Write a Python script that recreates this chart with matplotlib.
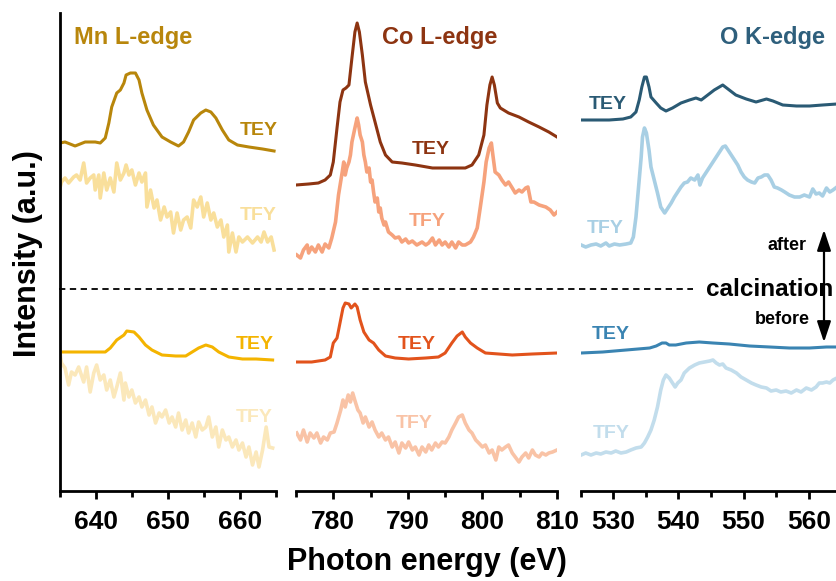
import matplotlib
matplotlib.use("Agg")
import matplotlib.pyplot as plt
from matplotlib.lines import Line2D
from matplotlib.patches import FancyArrowPatch
from matplotlib.ticker import MultipleLocator

plt.rcParams["font.family"] = ["Liberation Sans", "DejaVu Sans"]
plt.rcParams["font.weight"] = "bold"

# ---- Mn L-edge (photon energy eV, intensity a.u. incl. stacking offset) ----
mn_tey_after_e = [635.0, 635.7, 637.1, 638.5, 639.9, 640.6, 641.3, 641.8, 642.2, 642.9, 643.4,
                  643.9, 644.2, 644.8, 645.5, 646.0, 646.4, 647.1, 648.0, 649.2, 650.4, 651.5,
                  652.2, 652.9, 653.6, 654.6, 655.3, 656.0, 656.7, 657.6, 658.5, 659.7, 661.3,
                  663.2, 664.8]
mn_tey_after_i = [348, 349, 345, 349, 349, 348, 353, 368, 384, 398, 401, 408, 416, 418, 418, 411,
                  398, 381, 366, 354, 349, 345, 349, 359, 371, 378, 381, 379, 373, 361, 351, 346,
                  344, 342, 340]
mn_tfy_after_e = [635.0, 635.2, 635.7, 636.2, 636.9, 637.3, 637.8, 638.3, 638.7, 639.2, 639.7,
                  639.9, 640.4, 640.6, 641.1, 641.5, 642.0, 642.5, 642.9, 643.4, 643.9, 644.2,
                  644.6, 645.0, 645.5, 646.0, 646.4, 646.9, 647.1, 647.6, 648.1, 648.5, 649.0,
                  649.5, 649.9, 650.4, 650.8, 651.3, 651.8, 652.2, 652.7, 653.2, 653.6, 654.1,
                  654.6, 655.0, 655.5, 656.0, 656.4, 656.9, 657.4, 657.8, 658.3, 658.5, 659.0,
                  659.5, 659.9, 660.4, 661.1, 661.8, 662.5, 663.0, 663.4, 663.9, 664.4, 664.8]
mn_tfy_after_i = [303, 309, 313, 308, 314, 316, 311, 328, 308, 313, 316, 301, 316, 293, 318, 301,
                  313, 299, 328, 311, 318, 326, 316, 321, 306, 318, 309, 318, 284, 301, 283, 291,
                  271, 284, 274, 279, 258, 278, 261, 271, 274, 263, 291, 284, 294, 274, 288, 271,
                  278, 264, 271, 254, 266, 239, 258, 239, 254, 249, 254, 248, 254, 249, 259, 249,
                  254, 241]
mn_tey_before_e = [635.0, 637.1, 639.9, 641.3, 642.0, 642.9, 643.9, 644.3, 645.3, 646.0, 646.9,
                   647.8, 649.2, 651.1, 652.5, 653.4, 654.3, 655.3, 656.2, 657.1, 658.5, 660.4,
                   662.3, 664.6]
mn_tey_before_i = [139, 139, 139, 139, 143, 151, 156, 160, 159, 154, 146, 141, 136, 135, 135, 139,
                   143, 146, 144, 139, 134, 132, 132, 131]
mn_tfy_before_e = [635.0, 635.2, 635.7, 636.2, 636.6, 637.1, 637.6, 638.3, 638.7, 639.2, 639.7,
                   640.1, 640.6, 641.1, 641.5, 642.0, 642.5, 642.9, 643.4, 643.9, 644.1, 644.6,
                   645.0, 645.5, 646.0, 646.4, 646.9, 647.4, 647.8, 648.3, 648.8, 649.2, 649.7,
                   650.2, 650.6, 651.1, 651.5, 652.0, 652.5, 652.9, 653.4, 653.9, 654.3, 654.8,
                   655.3, 655.7, 656.2, 656.7, 657.1, 657.6, 658.1, 658.5, 659.0, 659.5, 659.9,
                   660.4, 660.9, 661.3, 661.8, 662.3, 662.7, 663.2, 663.7, 664.1, 664.6]
mn_tfy_before_i = [139, 128, 123, 106, 119, 116, 124, 109, 124, 99, 118, 126, 111, 116, 101, 111,
                   94, 104, 118, 91, 108, 94, 101, 88, 94, 84, 91, 76, 84, 68, 78, 74, 81, 68, 74,
                   64, 78, 61, 71, 58, 68, 54, 69, 61, 64, 74, 54, 64, 44, 61, 51, 54, 44, 51, 41,
                   48, 34, 44, 26, 39, 24, 41, 64, 44, 43]

# ---- Co L-edge ----
co_tey_after_e = [775.0, 776.7, 778.0, 778.9, 779.6, 780.0, 780.5, 780.9, 781.3, 781.7, 782.1,
                  782.5, 782.9, 783.2, 783.5, 783.9, 784.3, 785.0, 785.6, 786.3, 787.0, 787.9,
                  789.2, 791.0, 793.3, 795.5, 797.7, 798.6, 799.5, 800.2, 800.6, 801.0, 801.3,
                  801.6, 802.0, 802.4, 803.5, 804.9, 806.2, 807.6, 808.9, 810.0]
co_tey_after_i = [306, 307, 308, 311, 316, 329, 363, 389, 401, 403, 406, 433, 459, 468, 459, 436,
                  409, 386, 369, 349, 336, 329, 328, 326, 323, 323, 323, 326, 336, 356, 386, 406,
                  414, 406, 388, 383, 378, 374, 369, 364, 359, 354]
co_tfy_after_e = [775.1, 775.6, 776.0, 776.5, 776.7, 777.1, 777.6, 778.0, 778.5, 778.9, 779.4,
                  779.8, 780.3, 780.7, 781.2, 781.4, 781.6, 781.8, 782.1, 782.3, 782.5, 782.9,
                  783.2, 783.4, 783.6, 783.9, 784.1, 784.3, 784.5, 784.8, 785.0, 785.2, 785.4,
                  785.6, 785.9, 786.1, 786.3, 786.5, 786.8, 787.0, 787.4, 787.9, 788.3, 788.8,
                  789.2, 789.7, 790.1, 790.6, 791.2, 791.9, 792.4, 792.8, 793.3, 793.7, 794.2,
                  794.6, 795.0, 795.5, 795.9, 796.4, 796.8, 797.3, 797.7, 798.4, 798.8, 799.3,
                  799.7, 800.2, 800.5, 800.9, 801.2, 801.4, 801.7, 802.2, 802.6, 803.1, 803.5,
                  804.0, 804.4, 804.9, 805.3, 805.8, 806.1, 806.5, 806.9, 807.6, 808.5, 809.1,
                  809.6, 810.0]
co_tfy_after_i = [236, 233, 241, 246, 238, 244, 239, 246, 239, 247, 243, 253, 269, 296, 319, 329,
                  316, 323, 329, 336, 349, 363, 373, 366, 356, 349, 336, 329, 319, 323, 309, 311,
                  299, 289, 293, 279, 283, 273, 266, 269, 259, 256, 253, 254, 249, 252, 248, 250,
                  246, 249, 246, 248, 253, 246, 251, 246, 249, 244, 249, 243, 249, 246, 246, 249,
                  254, 263, 283, 309, 329, 343, 348, 336, 319, 316, 311, 306, 309, 303, 298, 301,
                  299, 303, 304, 289, 289, 286, 284, 281, 276, 279]
co_tey_before_e = [775.1, 777.1, 778.9, 779.6, 780.0, 780.5, 780.9, 781.3, 781.6, 782.1, 782.4,
                   782.9, 783.2, 783.6, 784.1, 784.8, 785.4, 786.1, 787.0, 788.3, 790.1, 792.4,
                   794.1, 795.0, 795.9, 796.6, 797.3, 797.7, 798.4, 799.3, 800.4, 802.2, 804.0,
                   806.7, 810.0]
co_tey_before_i = [129, 129, 131, 134, 148, 153, 168, 183, 188, 187, 183, 187, 184, 171, 159, 151,
                   148, 141, 135, 133, 132, 133, 134, 138, 148, 155, 159, 154, 148, 143, 138, 137,
                   136, 137, 138]
co_tfy_before_e = [775.1, 775.6, 776.0, 776.5, 776.9, 777.4, 777.8, 778.3, 778.7, 779.2, 779.6,
                   780.1, 780.5, 781.0, 781.3, 781.6, 782.0, 782.3, 782.6, 783.0, 783.3, 783.6,
                   784.0, 784.3, 784.8, 785.2, 785.6, 786.1, 786.5, 787.0, 787.4, 787.9, 788.3,
                   788.8, 789.2, 789.7, 790.1, 790.6, 791.0, 791.5, 791.9, 792.4, 792.8, 793.2,
                   793.7, 794.1, 794.6, 795.0, 795.5, 795.9, 796.4, 796.8, 797.3, 797.7, 798.2,
                   798.6, 799.1, 799.5, 800.0, 800.4, 800.9, 801.3, 801.8, 802.2, 802.6, 803.1,
                   803.5, 804.0, 804.4, 804.9, 805.3, 805.8, 806.2, 806.7, 807.1, 807.6, 808.0,
                   808.5, 808.9, 809.4, 810.0]
co_tfy_before_i = [58, 51, 61, 49, 58, 53, 58, 48, 54, 51, 58, 59, 68, 81, 91, 84, 96, 89, 98, 88,
                   81, 78, 68, 74, 64, 69, 61, 54, 58, 51, 54, 44, 49, 38, 48, 43, 49, 41, 44, 36,
                   44, 39, 46, 41, 48, 44, 49, 48, 54, 61, 68, 74, 76, 68, 61, 58, 51, 48, 44, 46,
                   38, 41, 31, 44, 41, 44, 46, 38, 34, 29, 34, 38, 33, 41, 36, 34, 38, 36, 38, 39,
                   41]

# ---- O K-edge ----
o_tey_after_e = [525.1, 527.4, 529.4, 531.5, 532.7, 533.5, 534.0, 534.4, 534.8, 535.1, 535.5,
                 535.8, 536.6, 537.3, 538.1, 539.1, 540.4, 541.7, 542.7, 543.5, 544.5, 545.5,
                 546.8, 547.8, 548.8, 550.4, 551.9, 553.5, 554.5, 556.0, 558.1, 560.1, 562.1,
                 564.3, 565.0]
o_tey_after_i = [371, 371, 371, 372, 374, 379, 391, 404, 414, 414, 404, 394, 388, 383, 380, 383,
                 388, 391, 393, 391, 396, 401, 406, 401, 396, 392, 389, 392, 390, 386, 385, 385,
                 386, 387, 387]
o_tfy_after_e = [525.1, 525.8, 526.6, 527.4, 528.1, 528.9, 529.4, 530.2, 531.0, 532.0, 532.7,
                 533.1, 533.5, 533.9, 534.3, 534.5, 534.8, 535.1, 535.5, 535.8, 536.3, 536.8,
                 537.3, 537.9, 538.4, 538.9, 539.4, 539.9, 540.4, 540.9, 541.4, 541.9, 542.5,
                 543.0, 543.3, 543.7, 544.3, 544.8, 545.3, 545.8, 546.3, 546.8, 547.2, 547.6,
                 548.1, 548.6, 549.1, 549.6, 550.1, 550.6, 551.2, 551.7, 552.2, 552.7, 553.2,
                 553.7, 554.2, 554.7, 555.2, 555.8, 556.3, 557.0, 557.8, 558.6, 559.3, 560.1,
                 560.6, 561.1, 561.6, 562.1, 562.7, 563.2, 563.7, 564.3, 565.0]
o_tfy_after_i = [246, 244, 246, 247, 245, 248, 245, 247, 246, 247, 248, 254, 274, 304, 334, 354,
                 363, 358, 341, 324, 311, 298, 284, 278, 283, 288, 294, 299, 304, 308, 309, 313,
                 311, 316, 306, 313, 319, 324, 329, 334, 339, 344, 345, 341, 336, 331, 326, 319,
                 314, 311, 309, 308, 313, 314, 316, 316, 311, 304, 303, 301, 299, 296, 294, 294,
                 296, 294, 302, 297, 298, 295, 303, 299, 301, 304, 306]
o_tey_before_e = [525.1, 528.4, 532.0, 535.6, 536.6, 537.5, 538.1, 538.6, 539.6, 541.2, 543.2,
                  545.3, 547.8, 550.9, 554.0, 557.0, 560.1, 562.7, 564.3, 565.0]
o_tey_before_i = [138, 139, 141, 143, 145, 148, 148, 146, 146, 148, 149, 148, 147, 145, 144, 143,
                  143, 144, 144, 144]
o_tfy_before_e = [525.1, 525.8, 526.6, 527.4, 528.1, 528.9, 529.7, 530.4, 531.2, 532.0, 532.7,
                  533.5, 534.3, 534.8, 535.3, 535.8, 536.3, 536.8, 537.3, 537.7, 538.1, 538.6,
                  539.1, 539.5, 539.9, 540.4, 540.9, 541.7, 542.5, 543.2, 544.0, 544.8, 545.3,
                  545.8, 546.3, 546.8, 547.3, 548.1, 548.9, 549.6, 550.4, 551.2, 551.9, 552.7,
                  553.5, 554.2, 555.0, 555.7, 556.5, 557.3, 558.1, 558.8, 559.6, 560.4, 561.1,
                  561.6, 562.1, 562.7, 563.2, 563.7, 564.3, 565.0]
o_tfy_before_i = [36, 38, 36, 38, 37, 39, 38, 40, 38, 39, 41, 43, 44, 48, 54, 61, 71, 84, 101, 111,
                  116, 113, 108, 104, 108, 111, 118, 123, 126, 128, 129, 130, 131, 128, 126, 127,
                  123, 121, 118, 114, 111, 108, 106, 104, 103, 100, 101, 99, 100, 98, 101, 99,
                  103, 101, 104, 108, 108, 109, 108, 111, 113, 115]

# label anchors (energy, intensity) for the TEY / TFY tags
mn_tags = [(662.6, 361), (662.6, 276), (662.1, 147), (662.1, 74)]
co_tags = [(793.1, 342), (792.6, 270), (791.2, 147), (790.9, 67)]
o_tags = [(529.1, 387), (528.8, 263), (529.7, 157), (529.7, 57)]

W, H = 837, 581
YTOP = 478  # a.u. at top of frame


def fx(px):
    return px / W


def fy(py):
    return 1 - py / H


fig = plt.figure(figsize=(W / 100, H / 100), dpi=100)

panels = [
    dict(x0=60, x1=275.5, xlim=(635, 665), title="Mn L-edge", tcol="#b8860b", tx=133.5,
         curves=[(mn_tey_after_e, mn_tey_after_i, "#b8860b", 2.2),
                 (mn_tfy_after_e, mn_tfy_after_i, "#f9df9b", 2.6),
                 (mn_tey_before_e, mn_tey_before_i, "#f4b400", 2.2),
                 (mn_tfy_before_e, mn_tfy_before_i, "#fbe8bb", 2.6)],
         tags=mn_tags),
    dict(x0=296, x1=557, xlim=(775, 810), title="Co L-edge", tcol="#8d3411", tx=440,
         curves=[(co_tey_after_e, co_tey_after_i, "#8d3411", 2.2),
                 (co_tfy_after_e, co_tfy_after_i, "#f6a27c", 2.6),
                 (co_tey_before_e, co_tey_before_i, "#e2531c", 2.2),
                 (co_tfy_before_e, co_tfy_before_i, "#f9c3a6", 2.6)],
         tags=co_tags),
    dict(x0=580.5, x1=841.5, xlim=(525, 565), title="O K-edge", tcol="#2e5f7c", tx=772.5,
         curves=[(o_tey_after_e, o_tey_after_i, "#2a5a74", 2.2),
                 (o_tfy_after_e, o_tfy_after_i, "#a8cfe4", 2.6),
                 (o_tey_before_e, o_tey_before_i, "#3a84b2", 2.2),
                 (o_tfy_before_e, o_tfy_before_i, "#c2ddec", 2.6)],
         tags=o_tags),
]

axes = []
for k, p in enumerate(panels):
    ax = fig.add_axes([fx(p["x0"]), fy(491), (p["x1"] - p["x0"]) / W, (491 - 13) / H])
    for e, i, c, lw in p["curves"]:
        ax.plot(e, i, color=c, lw=lw, solid_joinstyle="round")
    for (te, ti), (_, _, c, _), lab in zip(p["tags"], p["curves"], ["TEY", "TFY", "TEY", "TFY"]):
        ax.text(te, ti, lab, color=c, fontsize=14, fontweight="bold",
                ha="center", va="center", clip_on=False)
    ax.set_xlim(*p["xlim"])
    ax.set_ylim(0, YTOP)
    ax.xaxis.set_major_locator(MultipleLocator(10))
    ax.xaxis.set_minor_locator(MultipleLocator(5))
    ax.tick_params(axis="x", which="major", direction="out", length=6, width=2,
                   labelsize=19, pad=8)
    ax.tick_params(axis="x", which="minor", direction="out", length=4, width=2)
    ax.set_yticks([])
    for s in ["top", "right"]:
        ax.spines[s].set_visible(False)
    ax.spines["left"].set_visible(k == 0)
    ax.spines["left"].set_linewidth(2)
    ax.spines["bottom"].set_linewidth(2)
    for t in ax.get_xticklabels():
        t.set_fontweight("bold")
    ax.patch.set_alpha(0)
    fig.text(fx(p["tx"]), fy(44), p["title"], color=p["tcol"], fontsize=17,
             fontweight="bold", ha="center", va="baseline")
    axes.append(ax)

# before/after calcination divider
fig.add_artist(Line2D([fx(59), fx(693)], [fy(289), fy(289)], transform=fig.transFigure,
                      color="black", lw=1.3, ls=(0, (3.5, 2.5))))
fig.text(fx(706), fy(289), "calcination", fontsize=17.5, fontweight="bold",
         ha="left", va="center")
fig.text(fx(787), fy(245), "after", fontsize=13, fontweight="bold", ha="center", va="center")
fig.text(fx(782), fy(320), "before", fontsize=13, fontweight="bold", ha="center", va="center")
fig.add_artist(FancyArrowPatch((fx(824), fy(345)), (fx(824), fy(227)),
                               transform=fig.transFigure, arrowstyle="<|-|>,head_length=0.9,head_width=0.3",
                               mutation_scale=14, lw=1.6, color="black"))

fig.text(fx(427), fy(570), "Photon energy (eV)", fontsize=22, fontweight="bold",
         ha="center", va="baseline")
fig.text(fx(28), fy(254), "Intensity (a.u.)", fontsize=22, fontweight="bold",
         ha="center", va="center", rotation=90)

fig.savefig("out.png", dpi=100)
